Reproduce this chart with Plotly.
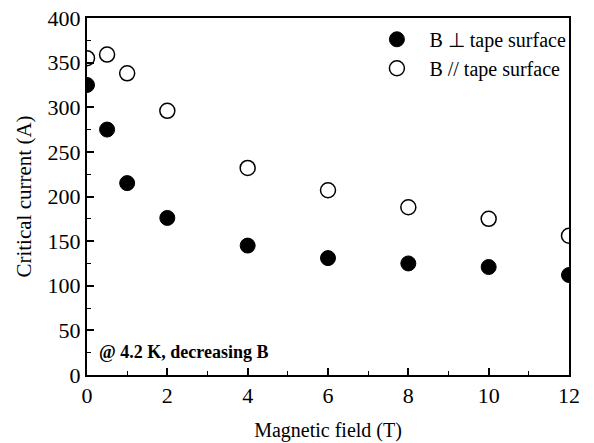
import plotly.graph_objects as go

field_T = [0, 0.5, 1, 2, 4, 6, 8, 10, 12]
ic_perp = [325, 275, 215, 176, 145, 131, 125, 121, 112]
ic_par = [355, 359, 338, 296, 232, 207, 188, 175, 156]
series_names = ["B \u22a5 tape surface", "B // tape surface"]
x_ticks = [0, 2, 4, 6, 8, 10, 12]
y_ticks = [0, 50, 100, 150, 200, 250, 300, 350, 400]

FONT = "Liberation Serif, Times New Roman, serif"

fig = go.Figure()
fig.add_trace(go.Scatter(x=field_T, y=ic_perp, mode="markers", name=series_names[0],
                         marker=dict(symbol="circle", size=15, color="black",
                                     line=dict(color="black", width=1))))
fig.add_trace(go.Scatter(x=field_T, y=ic_par, mode="markers", name=series_names[1],
                         marker=dict(symbol="circle-open", size=15, color="black",
                                     line=dict(color="black", width=1.5))))

axis_common = dict(showline=True, linecolor="black", linewidth=2, mirror=True,
                   ticks="inside", ticklen=7, tickwidth=1.5, tickcolor="black",
                   showgrid=False, zeroline=False, automargin=False,
                   tickfont=dict(family=FONT, size=22, color="black"))

fig.update_xaxes(range=[0, 12], tickvals=x_ticks,
                 minor=dict(ticks="inside", ticklen=4, tickwidth=1, dtick=1, tickcolor="black"),
                 title=dict(text="Magnetic field (T)", font=dict(family=FONT, size=20, color="black"),
                            standoff=16),
                 **axis_common)
fig.update_yaxes(range=[0, 400], tickvals=y_ticks,
                 minor=dict(ticks="inside", ticklen=4, tickwidth=1, dtick=25, tickcolor="black"),
                 title=dict(text="Critical current (A)", font=dict(family=FONT, size=21, color="black"),
                            standoff=10),
                 **axis_common)

fig.add_annotation(text="<b>@ 4.2 K, decreasing B</b>", xref="paper", yref="paper",
                   x=0.02, y=0.065, xanchor="left", yanchor="middle", showarrow=False,
                   font=dict(family=FONT, size=18, color="black"))

fig.update_layout(width=594, height=443,
                  margin=dict(l=87, r=25, t=18, b=68),
                  paper_bgcolor="white", plot_bgcolor="white",
                  showlegend=True,
                  legend=dict(x=1.005, y=0.995, xanchor="right", yanchor="top",
                              bgcolor="rgba(0,0,0,0)",
                              font=dict(family=FONT, size=20, color="black"),
                              itemwidth=55, tracegroupgap=0))

fig.write_html("out.html", config={"displayModeBar": False},
               post_script="document.body.style.margin='0px';")
